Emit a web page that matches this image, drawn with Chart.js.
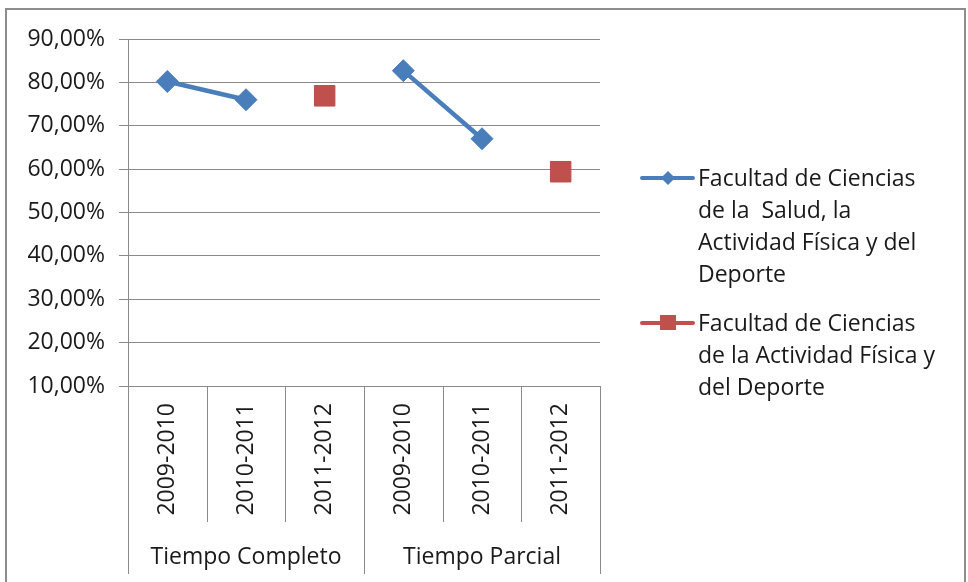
<!DOCTYPE html>
<html>
<head>
<meta charset="utf-8">
<script src="https://cdn.jsdelivr.net/npm/chart.js@4.4.1/dist/chart.umd.min.js"></script>
<style>
  body { margin: 0; background: #fff; }
  #wrap { position: relative; width: 968px; height: 582px; overflow: hidden; font-family: 'Open Sans', sans-serif; }
  #frame { position: absolute; left: 5px; top: 8px; width: 957px; height: 620px; border: 2px solid #8d8d8d; }
  #legend { position: absolute; left: 0; top: 0; color: #1a1a1a; font-size: 23px; line-height: 32px; }
  .item { position: absolute; left: 640px; }
  .line { position: absolute; left: 0; width: 55px; height: 4px; border-radius: 2px; }
  .mark { position: absolute; }
  .text { position: absolute; left: 58px; top: 0; white-space: pre; }
</style>
</head>
<body>
<div id="wrap">
  <div id="frame"></div>
  <canvas id="chart" width="968" height="582"></canvas>
  <div id="legend"></div>
</div>
<script>
const years = ["2009-2010", "2010-2011", "2011-2012", "2009-2010", "2010-2011", "2011-2012"];
const groups = ["Tiempo Completo", "Tiempo Parcial"];
const saludValues = [80.2, 76.0, null, 82.7, 67.0, null];
const actividadValues = [null, null, 76.9, null, null, 59.4];
const saludLines = ["Facultad de Ciencias", "de la  Salud, la", "Actividad Física y del", "Deporte"];
const actividadLines = ["Facultad de Ciencias", "de la Actividad Física y", "del Deporte"];
const yTicks = [10, 20, 30, 40, 50, 60, 70, 80, 90];

const blue = "#4a7ebb";
const red = "#c0504d";
const gridColor = "#8a8a8a";

Chart.defaults.font.family = "'Open Sans', sans-serif";
Chart.defaults.font.size = 23;
Chart.defaults.color = "#1a1a1a";

// category boundaries and group labels under the axis
const groupAxis = {
  id: "groupAxis",
  afterDraw(chart) {
    const x = chart.scales.x;
    const c = chart.ctx;
    const bottom = chart.chartArea.bottom;
    const half = (x.getPixelForValue(1) - x.getPixelForValue(0)) / 2;
    c.save();
    c.strokeStyle = gridColor;
    c.lineWidth = 1;
    for (let i = 0; i <= years.length; i++) {
      const px = Math.round(i < years.length ? x.getPixelForValue(i) - half : x.getPixelForValue(i - 1) + half) + 0.5;
      const long = i % 3 === 0;
      c.beginPath();
      c.moveTo(px, bottom);
      c.lineTo(px, long ? bottom + 188 : bottom + 136);
      c.stroke();
    }
    c.fillStyle = "#1a1a1a";
    c.font = "23px 'Open Sans', sans-serif";
    c.textAlign = "center";
    c.textBaseline = "middle";
    groups.forEach((g, k) => {
      const a = x.getPixelForValue(k * 3) - half;
      const b = x.getPixelForValue(k * 3 + 2) + half;
      c.fillText(g, (a + b) / 2, bottom + 171);
    });
    c.restore();
  }
};

new Chart(document.getElementById("chart"), {
  type: "line",
  data: {
    labels: years,
    datasets: [
      {
        label: saludLines.join(" "),
        data: saludValues,
        borderColor: blue,
        backgroundColor: blue,
        borderWidth: 4.5,
        pointStyle: "rectRot",
        pointRadius: 11,
        pointBorderWidth: 1,
        spanGaps: false,
      },
      {
        label: actividadLines.join(" "),
        data: actividadValues,
        borderColor: red,
        backgroundColor: red,
        borderWidth: 4.5,
        pointStyle: "rect",
        pointRadius: 14.5,
        pointBorderWidth: 1,
        pointBorderColor: "#b8504d",
      },
    ],
  },
  options: {
    responsive: false,
    animation: false,
    layout: { padding: { top: 39, right: 368, bottom: 0, left: 0 } },
    plugins: {
      legend: { display: false },
      tooltip: { enabled: false },
    },
    scales: {
      x: {
        offset: true,
        grid: { display: false, drawTicks: false },
        border: { display: false },
        ticks: { minRotation: 90, maxRotation: 90, autoSkip: false, padding: 17 },
        afterFit(s) { s.height = 196; s.paddingLeft = 0; s.paddingRight = 0; },
      },
      y: {
        min: 10,
        max: 90,
        afterBuildTicks(s) { s.ticks = yTicks.map(v => ({ value: v })); },
        grid: { color: gridColor, tickLength: 9, lineWidth: 1 },
        border: { color: gridColor, width: 1 },
        ticks: {
          padding: 14,
          callback: v => v.toFixed(2).replace(".", ",") + "%",
        },
        afterFit(s) { s.width = 128; s.paddingTop = 0; s.paddingBottom = 0; },
      },
    },
  },
  plugins: [groupAxis],
});

// legend with wrapped text, like the original
const legend = document.getElementById("legend");
[
  { lines: saludLines, color: blue, top: 161, shape: "diamond" },
  { lines: actividadLines, color: red, top: 306, shape: "square" },
].forEach(e => {
  const item = document.createElement("div");
  item.className = "item";
  item.style.top = e.top + "px";
  const line = document.createElement("div");
  line.className = "line";
  line.style.top = "15px";
  line.style.background = e.color;
  const mark = document.createElement("div");
  mark.className = "mark";
  mark.style.background = e.color;
  if (e.shape === "diamond") {
    Object.assign(mark.style, { width: "10px", height: "10px", left: "23px", top: "12px", transform: "rotate(45deg)" });
  } else {
    Object.assign(mark.style, { width: "16px", height: "15px", left: "20px", top: "9px" });
  }
  const text = document.createElement("div");
  text.className = "text";
  text.textContent = e.lines.join("\n");
  item.append(line, mark, text);
  legend.appendChild(item);
});
</script>
</body>
</html>
